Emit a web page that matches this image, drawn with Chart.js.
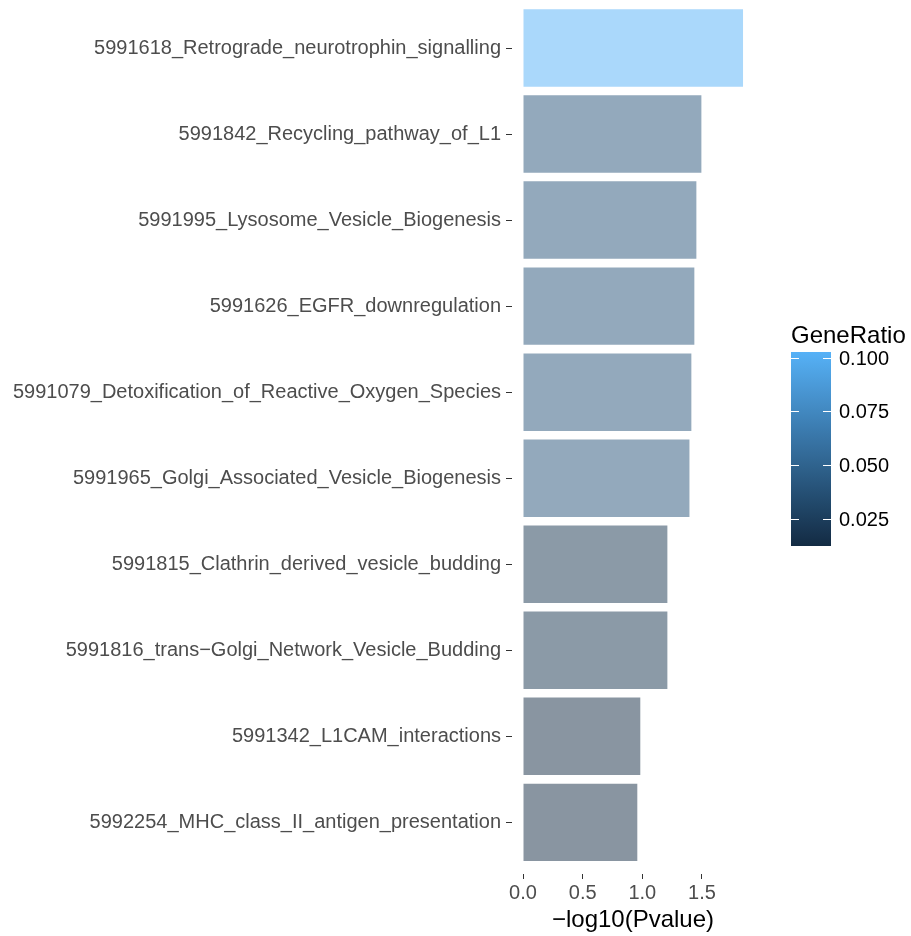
<!DOCTYPE html>
<html>
<head>
<meta charset="utf-8">
<script src="https://cdn.jsdelivr.net/npm/chart.js@4.4.1/dist/chart.umd.min.js"></script>
<style>
  body { margin: 0; background: #fff; }
</style>
</head>
<body>
<canvas id="chart" width="911" height="936"></canvas>
<script>
// pathways, top to bottom
const pathways = [
  "5991618_Retrograde_neurotrophin_signalling",
  "5991842_Recycling_pathway_of_L1",
  "5991995_Lysosome_Vesicle_Biogenesis",
  "5991626_EGFR_downregulation",
  "5991079_Detoxification_of_Reactive_Oxygen_Species",
  "5991965_Golgi_Associated_Vesicle_Biogenesis",
  "5991815_Clathrin_derived_vesicle_budding",
  "5991816_trans\u2212Golgi_Network_Vesicle_Budding",
  "5991342_L1CAM_interactions",
  "5992254_MHC_class_II_antigen_presentation"
];
const negLog10P = [1.844, 1.495, 1.453, 1.436, 1.411, 1.395, 1.21, 1.21, 0.983, 0.958];
const geneRatio = [0.1026, 0.04, 0.04, 0.04, 0.04, 0.04, 0.019, 0.019, 0.0125, 0.0125];
const xTicks = [0, 0.5, 1.0, 1.5];
const legendTicks = [0.025, 0.05, 0.075, 0.1];

const FONT = "'Liberation Sans', Arial, Helvetica, sans-serif";
const lowCol = [19, 43, 67];    // #132B43
const highCol = [86, 177, 247]; // #56B1F7
const ratioMin = Math.min(...geneRatio);
const ratioMax = Math.max(...geneRatio);

function ratioColor(v, alpha) {
  const t = (v - ratioMin) / (ratioMax - ratioMin);
  const c = lowCol.map((lo, i) => Math.round(lo + (highCol[i] - lo) * t));
  return `rgba(${c[0]}, ${c[1]}, ${c[2]}, ${alpha})`;
}

// gradient colour bar legend
const colorbar = {
  id: "colorbar",
  afterDraw(chart) {
    const ctx = chart.ctx;
    const x = 791, top = 352, w = 40, h = 194;
    const yOf = v => top + h - (v - ratioMin) / (ratioMax - ratioMin) * h;
    ctx.save();
    const grad = ctx.createLinearGradient(0, top + h, 0, top);
    for (let i = 0; i <= 10; i++) {
      grad.addColorStop(i / 10, ratioColor(ratioMin + (ratioMax - ratioMin) * i / 10, 1));
    }
    ctx.fillStyle = grad;
    ctx.fillRect(x, top, w, h);

    ctx.strokeStyle = "#ffffff";
    ctx.lineWidth = 1;
    ctx.fillStyle = "#000000";
    ctx.font = `20px ${FONT}`;
    ctx.textBaseline = "middle";
    ctx.textAlign = "left";
    legendTicks.forEach(v => {
      const y = Math.round(yOf(v)) + 0.5;
      ctx.beginPath();
      ctx.moveTo(x, y); ctx.lineTo(x + 8, y);
      ctx.moveTo(x + w - 8, y); ctx.lineTo(x + w, y);
      ctx.stroke();
      ctx.fillText(v.toFixed(3), 839, y + 1);
    });

    ctx.font = `24px ${FONT}`;
    ctx.textBaseline = "alphabetic";
    ctx.fillText("GeneRatio", 791, 343);
    ctx.restore();
  }
};

const chart = new Chart(document.getElementById("chart"), {
  type: "bar",
  data: {
    datasets: [{
      data: negLog10P.map((v, i) => ({ x: v, y: i })),
      backgroundColor: geneRatio.map(r => ratioColor(r, 0.5)),
      borderWidth: 0,
      barPercentage: 0.9,
      categoryPercentage: 1.0
    }]
  },
  options: {
    indexAxis: "y",
    responsive: false,
    animation: false,
    layout: { padding: { left: 0, right: 157, top: 0, bottom: 0 } },
    scales: {
      x: {
        type: "linear",
        min: -0.0922,
        max: 1.936,
        offset: false,
        afterBuildTicks: s => { s.ticks = xTicks.map(v => ({ value: v })); },
        afterFit: s => { s.height = 62; s.paddingLeft = 0; s.paddingRight = 0; },
        border: { display: false },
        grid: { offset: false, drawOnChartArea: false, drawTicks: true, tickLength: 5, color: "#333333", lineWidth: 1 },
        ticks: {
          padding: 2,
          color: "#4D4D4D",
          font: { family: FONT, size: 20 },
          callback: v => v.toFixed(1)
        },
        title: {
          display: true,
          text: "\u2212log10(Pvalue)",
          color: "#000000",
          font: { family: FONT, size: 24 },
          padding: { top: 0, bottom: 1 }
        }
      },
      y: {
        type: "linear",
        reverse: true,
        min: -0.558,
        max: 9.6,
        offset: false,
        afterBuildTicks: s => { s.ticks = pathways.map((_, i) => ({ value: i })); },
        afterFit: s => { s.width = 512; s.paddingTop = 0; s.paddingBottom = 0; },
        border: { display: false },
        grid: { offset: false, drawOnChartArea: false, drawTicks: true, tickLength: 6, color: "#333333", lineWidth: 1 },
        ticks: {
          autoSkip: false,
          padding: 5,
          color: "#4D4D4D",
          font: { family: FONT, size: 20 },
          callback: v => pathways[v]
        }
      }
    },
    plugins: {
      legend: { display: false },
      tooltip: { enabled: false }
    }
  },
  plugins: [colorbar]
});
</script>
</body>
</html>
